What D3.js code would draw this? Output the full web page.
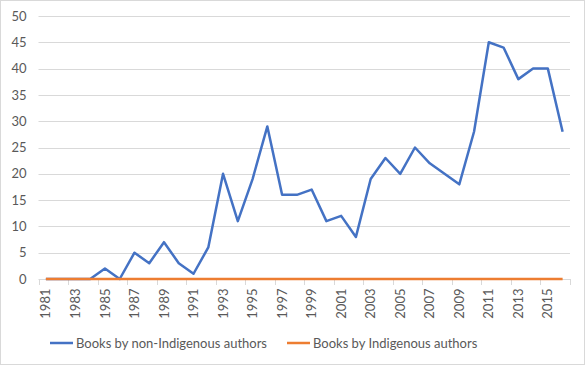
<!DOCTYPE html>
<html><head><meta charset="utf-8">
<script src="https://cdn.jsdelivr.net/npm/d3@7"></script>
<style>
html,body{margin:0;padding:0;background:#fff;}
svg{display:block;font-family:Lato,"Open Sans",sans-serif;}
</style></head>
<body><svg id="c" width="585" height="365"></svg>
<script>
const years = d3.range(1981, 2017).map(String);
const nonIndigenous = [0,0,0,0,2,0,5,3,7,3,1,6,20,11,19,29,16,16,17,11,12,8,19,23,20,25,22,20,18,28,45,44,38,40,40,28];
const indigenous = years.map(() => 0);
const yTicks = [0,5,10,15,20,25,30,35,40,45,50];
const seriesNames = ["Books by non-Indigenous authors","Books by Indigenous authors"];
const colors = ["#4472C4","#ED7D31"];

const svg = d3.select("#c");
svg.append("rect").attr("x",0.5).attr("y",0.5).attr("width",584).attr("height",364)
  .attr("fill","#fff").attr("stroke","#d9d9d9");

const L=38.5, R=570, T=16, B=279;
const x = d3.scaleBand().domain(years).range([L,R]);
const y = d3.scaleLinear().domain([0,50]).range([B,T]);

// gridlines
svg.append("g").selectAll("line").data(yTicks.filter(d=>d>0)).join("line")
  .attr("x1",L).attr("x2",R).attr("y1",d=>Math.round(y(d))+0.5).attr("y2",d=>Math.round(y(d))+0.5)
  .attr("stroke","#d9d9d9").attr("stroke-width",1);

// y axis labels
const ya = svg.append("g").attr("transform",`translate(${L},0)`)
  .call(d3.axisLeft(y).tickValues(yTicks).tickSize(0).tickPadding(12));
ya.select(".domain").remove();
ya.selectAll("text").attr("font-size",13).attr("fill","#595959").attr("font-family","Lato,'Open Sans',sans-serif");

// x axis
const xa = svg.append("g").attr("transform",`translate(0,${Math.round(B)+0.5})`)
  .call(d3.axisBottom(x).tickValues(years.filter((d,i)=>i%2===0)).tickSize(0));
xa.select(".domain").attr("stroke","#d9d9d9").attr("d",`M${L},0H${R}`);
xa.selectAll(".tick line").remove();
// tick marks at category boundaries every 2
const boundaries = d3.range(0, years.length+1, 2).map(i => L + i*x.step());
svg.append("g").selectAll("line").data(boundaries).join("line")
  .attr("x1",d=>Math.round(d)+0.5).attr("x2",d=>Math.round(d)+0.5)
  .attr("y1",B).attr("y2",B+6).attr("stroke","#d9d9d9");
xa.selectAll("text")
  .attr("transform","rotate(-90)")
  .attr("text-anchor","end")
  .attr("dy","0.35em")
  .attr("x",-9).attr("y",0)
  .attr("font-size",13).attr("fill","#595959").attr("font-family","Lato,'Open Sans',sans-serif");

const line = d3.line().x((d,i)=>x(years[i])+x.bandwidth()/2).y(d=>y(d));
[nonIndigenous, indigenous].forEach((s,k)=>{
  svg.append("path").datum(s).attr("d",line).attr("fill","none")
    .attr("stroke",colors[k]).attr("stroke-width",2.5).attr("stroke-linejoin","round");
});

// legend
const leg = [{x:50,n:seriesNames[0],c:colors[0]},{x:287,n:seriesNames[1],c:colors[1]}];
const lg = svg.append("g");
leg.forEach(l=>{
  lg.append("line").attr("x1",l.x).attr("x2",l.x+23).attr("y1",343).attr("y2",343)
    .attr("stroke",l.c).attr("stroke-width",2.5);
  lg.append("text").attr("x",l.x+26).attr("y",343).attr("dy","0.35em")
    .attr("font-size",13).attr("fill","#595959").text(l.n);
});
</script></body></html>
